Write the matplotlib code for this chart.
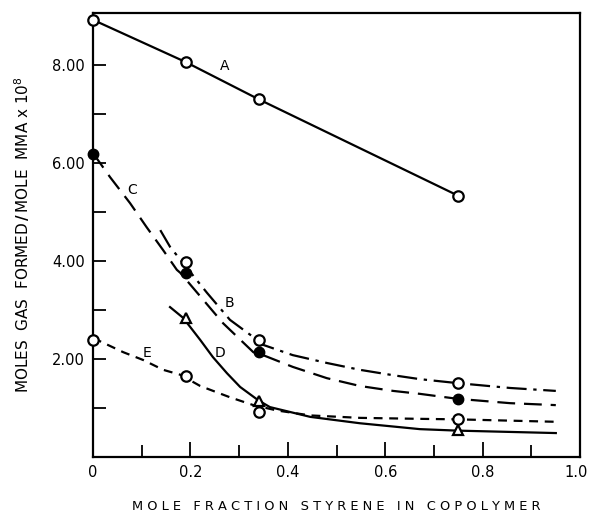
import matplotlib
matplotlib.use("Agg")
import matplotlib.pyplot as plt
import matplotlib.transforms as mtransforms

# measured points
x_pts = [0.0, 0.19, 0.34, 0.75]
a_pts = [8.92, 8.06, 7.30, 5.33]
b_x = [0.19, 0.34, 0.75]
b_pts = [3.99, 2.38, 1.51]
c_pts = [6.18, 3.76, 2.14, 1.18]
d_x = [0.19, 0.34, 0.75]
d_pts = [2.84, 1.14, 0.55]
e_pts = [2.38, 1.65, 0.92, 0.77]

# hand-drawn curves
b_curve_x = [0.138, 0.158, 0.183, 0.234, 0.281, 0.337, 0.349, 0.41, 0.48,
             0.548, 0.616, 0.671, 0.747, 0.856, 0.95]
b_curve_y = [4.63, 4.29, 3.98, 3.35, 2.80, 2.39, 2.29, 2.08, 1.92,
             1.78, 1.67, 1.59, 1.51, 1.41, 1.35]
c_curve_x = [0.0, 0.035, 0.076, 0.11, 0.144, 0.172, 0.179, 0.22, 0.267,
             0.329, 0.349, 0.41, 0.48, 0.548, 0.616, 0.671, 0.747, 0.856, 0.95]
c_curve_y = [6.20, 5.71, 5.18, 4.69, 4.22, 3.82, 3.76, 3.28, 2.73,
             2.14, 2.08, 1.84, 1.61, 1.45, 1.35, 1.29, 1.19, 1.10, 1.06]
d_curve_x = [0.158, 0.185, 0.22, 0.246, 0.275, 0.302, 0.339, 0.363, 0.446,
             0.548, 0.671, 0.747, 0.95]
d_curve_y = [3.06, 2.84, 2.39, 2.04, 1.71, 1.43, 1.16, 1.02, 0.82,
             0.69, 0.57, 0.54, 0.49]
e_curve_x = [0.0, 0.062, 0.103, 0.144, 0.179, 0.22, 0.281, 0.329, 0.378,
             0.446, 0.548, 0.671, 0.747, 0.95]
e_curve_y = [2.43, 2.14, 1.98, 1.78, 1.68, 1.45, 1.22, 1.06, 0.95,
             0.85, 0.80, 0.78, 0.77, 0.72]

curve_labels = {"A": (0.27, 7.98), "B": (0.28, 3.14), "C": (0.08, 5.45),
                "D": (0.26, 2.12), "E": (0.11, 2.12)}

fig = plt.figure(figsize=(5.89, 5.2), dpi=100)
ax = fig.add_axes([0.158, 0.121, 0.827, 0.854])

lw = 1.6
ms = 7.5
ax.plot(x_pts, a_pts, color="black", lw=lw)
ax.plot(b_curve_x, b_curve_y, color="black", lw=lw, dashes=(9, 3, 1.5, 3))
ax.plot(c_curve_x, c_curve_y, color="black", lw=lw, dashes=(8, 4))
ax.plot(d_curve_x, d_curve_y, color="black", lw=lw)
ax.plot(e_curve_x, e_curve_y, color="black", lw=lw, dashes=(4, 3))

open_kw = dict(ls="none", mfc="white", mec="black", mew=1.6, ms=ms, zorder=4)
ax.plot(x_pts, a_pts, marker="o", clip_on=False, **open_kw)
ax.plot(b_x, b_pts, marker="o", **open_kw)
ax.plot(x_pts, c_pts, marker="o", ls="none", mfc="black", mec="black",
        ms=ms, zorder=4, clip_on=False)
ax.plot(d_x, d_pts, marker="^", **open_kw)
ax.plot(x_pts, e_pts, marker="o", clip_on=False, **open_kw)

for name, (tx, ty) in curve_labels.items():
    ax.text(tx, ty, name, fontsize=10, ha="center", va="center")

ax.set_xlim(0, 1.0)
ax.set_ylim(0, 9.06)
ax.set_xticks([0, 0.2, 0.4, 0.6, 0.8, 1.0])
ax.set_xticklabels(["0", "0.2", "0.4", "0.6", "0.8", "1.0"])
ax.set_xticks([0.1, 0.3, 0.5, 0.7, 0.9], minor=True)
ax.set_yticks([2, 4, 6, 8])
ax.set_yticklabels(["2.00", "4.00", "6.00", "8.00"])
ax.set_yticks([1, 3, 5, 7], minor=True)
ax.tick_params(which="both", direction="in", length=9, width=1.3,
               labelsize=10.5, pad=6)
ax.tick_params(axis="x", which="major", length=11)
for s in ax.spines.values():
    s.set_linewidth(1.6)

# keep the last x label inside the canvas
last = ax.get_xticklabels()[-1]
last.set_horizontalalignment("right")
last.set_transform(last.get_transform() +
                   mtransforms.ScaledTranslation(8 / 100, 0, fig.dpi_scale_trans))

ax.set_xlabel("M O L E   F R A C T I O N   S T Y R E N E   I N   C O P O L Y M E R",
              fontsize=9.4, labelpad=14)
ax.set_ylabel("MOLES  GAS  FORMED$\\,\\mathbf{/}\\,$MOLE  MMA x 10$^{8}$",
              fontsize=11, labelpad=14)

fig.savefig("out.png", dpi=100)
